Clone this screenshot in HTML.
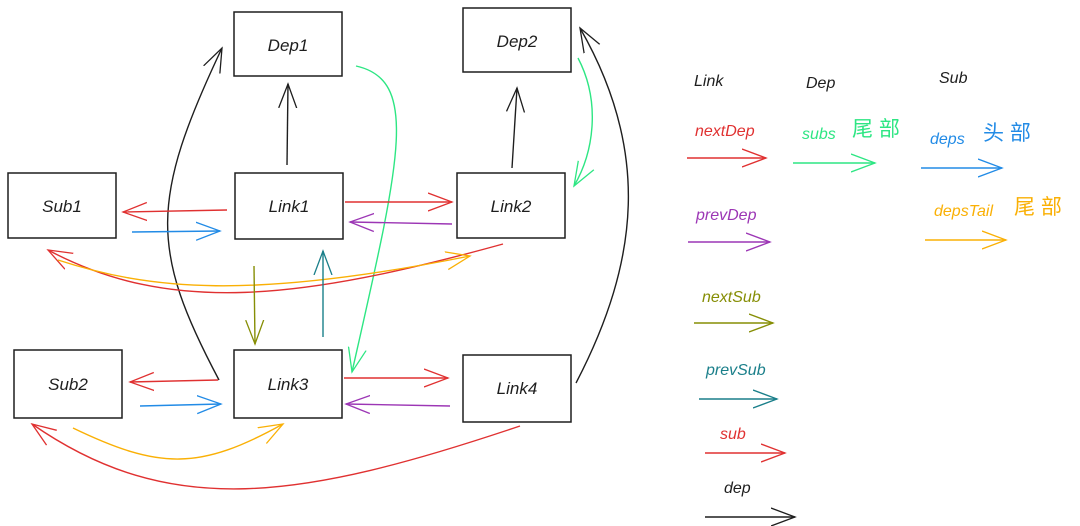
<!DOCTYPE html>
<html><head><meta charset="utf-8"><style>
html,body{margin:0;padding:0;background:#fff;}
svg{display:block}
text{font-family:"Liberation Sans","Noto Sans CJK SC",sans-serif;}
</style></head><body>
<svg width="1080" height="526" viewBox="0 0 1080 526" xmlns="http://www.w3.org/2000/svg">
<defs>
<marker id="mr" markerUnits="userSpaceOnUse" markerWidth="30" markerHeight="30" refX="24" refY="10" orient="auto" viewBox="0 0 30 20"><path d="M0,1 L24,10 L0,19" fill="none" stroke="#e03131" stroke-width="1.3"/></marker>
<marker id="mb" markerUnits="userSpaceOnUse" markerWidth="30" markerHeight="30" refX="24" refY="10" orient="auto" viewBox="0 0 30 20"><path d="M0,1 L24,10 L0,19" fill="none" stroke="#228be6" stroke-width="1.3"/></marker>
<marker id="mg" markerUnits="userSpaceOnUse" markerWidth="30" markerHeight="30" refX="24" refY="10" orient="auto" viewBox="0 0 30 20"><path d="M0,1 L24,10 L0,19" fill="none" stroke="#2de683" stroke-width="1.3"/></marker>
<marker id="mo" markerUnits="userSpaceOnUse" markerWidth="30" markerHeight="30" refX="24" refY="10" orient="auto" viewBox="0 0 30 20"><path d="M0,1 L24,10 L0,19" fill="none" stroke="#fab005" stroke-width="1.3"/></marker>
<marker id="mp" markerUnits="userSpaceOnUse" markerWidth="30" markerHeight="30" refX="24" refY="10" orient="auto" viewBox="0 0 30 20"><path d="M0,1 L24,10 L0,19" fill="none" stroke="#9c36b5" stroke-width="1.3"/></marker>
<marker id="ml" markerUnits="userSpaceOnUse" markerWidth="30" markerHeight="30" refX="24" refY="10" orient="auto" viewBox="0 0 30 20"><path d="M0,1 L24,10 L0,19" fill="none" stroke="#868e05" stroke-width="1.3"/></marker>
<marker id="mt" markerUnits="userSpaceOnUse" markerWidth="30" markerHeight="30" refX="24" refY="10" orient="auto" viewBox="0 0 30 20"><path d="M0,1 L24,10 L0,19" fill="none" stroke="#1a7f8a" stroke-width="1.3"/></marker>
<marker id="mk" markerUnits="userSpaceOnUse" markerWidth="30" markerHeight="30" refX="24" refY="10" orient="auto" viewBox="0 0 30 20"><path d="M0,1 L24,10 L0,19" fill="none" stroke="#1e1e1e" stroke-width="1.3"/></marker>
</defs>
<g fill="none" stroke="#1e1e1e" stroke-width="1.5">
<rect x="234" y="12" width="108" height="64"/>
<rect x="463" y="8" width="108" height="64"/>
<rect x="8" y="173" width="108" height="65"/>
<rect x="235" y="173" width="108" height="66"/>
<rect x="457" y="173" width="108" height="65"/>
<rect x="14" y="350" width="108" height="68"/>
<rect x="234" y="350" width="108" height="68"/>
<rect x="463" y="355" width="108" height="67"/>
</g>
<g font-size="17" fill="#1e1e1e" text-anchor="middle" font-style="italic">
<text x="288" y="51">Dep1</text>
<text x="517" y="47">Dep2</text>
<text x="62" y="212">Sub1</text>
<text x="289" y="212">Link1</text>
<text x="511" y="212">Link2</text>
<text x="68" y="390">Sub2</text>
<text x="288" y="390">Link3</text>
<text x="517" y="394">Link4</text>
</g>
<g fill="none" stroke-width="1.4">
<!-- black dep arrows -->
<path d="M287,165 L288,84" stroke="#1e1e1e" marker-end="url(#mk)"/>
<path d="M512,168 L517,88" stroke="#1e1e1e" marker-end="url(#mk)"/>
<path d="M219,380 C150,250 150,200 222,48" stroke="#1e1e1e" marker-end="url(#mk)"/>
<path d="M576,383 C640,260 650,150 580,28" stroke="#1e1e1e" marker-end="url(#mk)"/>
<!-- green subs -->
<path d="M356,66 C420,80 400,160 352,372" stroke="#2de683" marker-end="url(#mg)"/>
<path d="M578,58 C600,100 595,150 574,186" stroke="#2de683" marker-end="url(#mg)"/>
<!-- red nextDep / sub -->
<path d="M227,210 L123,212" stroke="#e03131" marker-end="url(#mr)"/>
<path d="M345,202 L452,202" stroke="#e03131" marker-end="url(#mr)"/>
<path d="M218,380 L130,382" stroke="#e03131" marker-end="url(#mr)"/>
<path d="M344,378 L448,378" stroke="#e03131" marker-end="url(#mr)"/>
<path d="M503,244 C300,300 170,315 48,250" stroke="#e03131" marker-end="url(#mr)"/>
<path d="M520,426 C300,500 170,520 32,424" stroke="#e03131" marker-end="url(#mr)"/>
<!-- blue -->
<path d="M132,232 L220,231" stroke="#228be6" marker-end="url(#mb)"/>
<path d="M140,406 L221,404" stroke="#228be6" marker-end="url(#mb)"/>
<!-- purple -->
<path d="M452,224 L350,222" stroke="#9c36b5" marker-end="url(#mp)"/>
<path d="M450,406 L346,404" stroke="#9c36b5" marker-end="url(#mp)"/>
<!-- orange -->
<path d="M58,260 C150,290 250,300 470,256" stroke="#fab005" marker-end="url(#mo)"/>
<path d="M73,428 C160,470 200,470 283,424" stroke="#fab005" marker-end="url(#mo)"/>
<!-- olive / teal -->
<path d="M254,266 L255,344" stroke="#868e05" marker-end="url(#ml)"/>
<path d="M323,337 L323,251" stroke="#1a7f8a" marker-end="url(#mt)"/>
<!-- legend -->
<path d="M687,158 L766,158" stroke="#e03131" marker-end="url(#mr)"/>
<path d="M688,242 L770,242" stroke="#9c36b5" marker-end="url(#mp)"/>
<path d="M694,323 L773,323" stroke="#868e05" marker-end="url(#ml)"/>
<path d="M699,399 L777,399" stroke="#1a7f8a" marker-end="url(#mt)"/>
<path d="M705,453 L785,453" stroke="#e03131" marker-end="url(#mr)"/>
<path d="M705,517 L795,517" stroke="#1e1e1e" marker-end="url(#mk)"/>
<path d="M793,163 L875,163" stroke="#2de683" marker-end="url(#mg)"/>
<path d="M921,168 L1002,168" stroke="#228be6" marker-end="url(#mb)"/>
<path d="M925,240 L1006,240" stroke="#fab005" marker-end="url(#mo)"/>
</g>
<g font-size="16" font-style="italic">
<text x="694" y="86" fill="#1e1e1e">Link</text>
<text x="806" y="88" fill="#1e1e1e">Dep</text>
<text x="939" y="83" fill="#1e1e1e">Sub</text>
<text x="695" y="136" fill="#e03131">nextDep</text>
<text x="696" y="220" fill="#9c36b5">prevDep</text>
<text x="702" y="302" fill="#868e05">nextSub</text>
<text x="706" y="375" fill="#1a7f8a">prevSub</text>
<text x="720" y="439" fill="#e03131">sub</text>
<text x="724" y="493" fill="#1e1e1e">dep</text>
<text x="802" y="139" fill="#2de683">subs</text>
<text x="930" y="144" fill="#228be6">deps</text>
<text x="934" y="216" fill="#fab005">depsTail</text>
</g>
<g font-size="21">
<text x="852" y="136" fill="#2de683">尾 部</text>
<text x="983" y="140" fill="#228be6">头 部</text>
<text x="1014" y="214" fill="#fab005">尾 部</text>
</g>
</svg>
</body></html>
